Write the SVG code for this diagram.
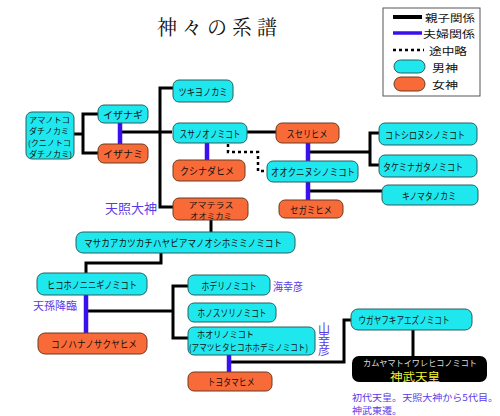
<svg xmlns="http://www.w3.org/2000/svg" width="500" height="416" viewBox="0 0 500 416">
<style>
.m{fill:#1ee8ee;stroke:#2b5f60;stroke-width:1}
.f{fill:#f86a38;stroke:#6b3a22;stroke-width:1}
.t{font-family:"Noto Sans CJK JP","Noto Sans",sans-serif;font-size:10px;fill:#111;text-anchor:middle;dominant-baseline:central}
.tl{font-family:"Noto Sans CJK JP","Noto Sans",sans-serif;font-size:10px;fill:#111;dominant-baseline:central}
.lb{font-family:"Noto Sans CJK JP","Noto Sans",sans-serif;fill:#5a3ae8;dominant-baseline:central}
.lg{font-family:"Noto Sans CJK JP","Noto Sans",sans-serif;font-size:10.5px;fill:#111;dominant-baseline:central}
.k{fill:none;stroke:#000;stroke-width:3}
.b{fill:none;stroke:#3a10ee;stroke-width:4.5}
.d{fill:none;stroke:#000;stroke-width:2.5;stroke-dasharray:3 3}
</style>
<rect width="500" height="416" fill="#fff"/>
<text x="217" y="26" font-family="'Noto Serif CJK JP','Noto Sans CJK JP',serif" font-size="20" text-anchor="middle" dominant-baseline="central" textLength="120" fill="#111">神々の系譜</text>

<g id="legend">
<rect x="383" y="8" width="97" height="88" fill="#fff" stroke="#555" stroke-width="1"/>
<line x1="393" y1="17" x2="422" y2="17" stroke="#000" stroke-width="4"/>
<text class="lg" x="425" y="17.5" textLength="50" lengthAdjust="spacingAndGlyphs">親子関係</text>
<line x1="393" y1="33" x2="422" y2="33" stroke="#3a10ee" stroke-width="3.5"/>
<text class="lg" x="423" y="33" textLength="52" lengthAdjust="spacingAndGlyphs">夫婦関係</text>
<line x1="393" y1="50" x2="424" y2="50" class="d" stroke-width="3"/>
<text class="lg" x="429" y="50" textLength="38" lengthAdjust="spacingAndGlyphs">途中略</text>
<rect x="394" y="60" width="31" height="13" rx="6.5" class="m"/>
<text class="lg" x="432" y="67" textLength="26" lengthAdjust="spacingAndGlyphs">男神</text>
<rect x="394" y="77" width="31" height="14" rx="7" class="f"/>
<text class="lg" x="432" y="84" textLength="26" lengthAdjust="spacingAndGlyphs">女神</text>
</g>

<g id="connectors">
<path class="k" d="M74 134H83M98 114H83V153H98"/>
<path class="k" d="M120 132H172"/>
<path class="k" d="M173 88H160V207H173"/>
<path class="k" d="M247 132H276"/>
<path class="k" d="M308 152H370M379 133H370V165H379"/>
<path class="k" d="M308 191H382"/>
<path class="k" d="M211 219V232"/>
<path class="k" d="M161 253V263H86V273"/>
<path class="k" d="M86 311H173M188 286H173V338H188"/>
<path class="k" d="M229 362H344V320H351"/>
<path class="k" d="M413 330V356"/>
<path class="b" d="M120 123V144"/>
<path class="b" d="M207 143V160"/>
<path class="b" d="M308 143V161M308 182V200"/>
<path class="b" d="M86 295V333"/>
<path class="b" d="M229 355V372"/>
<path class="d" d="M228 144V152H258V171H267"/>
</g>

<g id="amanotokotachi">
<rect x="26" y="112" width="48" height="47" rx="6" class="m"/>
<text class="tl" style="font-size:7.8px"><tspan x="29" y="118.5" textLength="41" lengthAdjust="spacingAndGlyphs">アマノトコ</tspan><tspan x="29" y="130" textLength="40" lengthAdjust="spacingAndGlyphs">ダチノカミ</tspan><tspan x="28" y="141.5" textLength="43" lengthAdjust="spacingAndGlyphs">(クニノトコ</tspan><tspan x="29" y="153" textLength="43" lengthAdjust="spacingAndGlyphs">ダチノカミ)</tspan></text>
</g>
<g id="izanagi"><rect x="98" y="105" width="50" height="18" rx="6" class="m"/><text class="t" x="123" y="114" textLength="40" lengthAdjust="spacingAndGlyphs">イザナギ</text></g>
<g id="izanami"><rect x="98" y="144" width="50" height="19" rx="6" class="f"/><text class="t" x="123" y="153.5" textLength="40" lengthAdjust="spacingAndGlyphs">イザナミ</text></g>
<g id="tsukiyomi"><rect x="173" y="80" width="60" height="22" rx="6" class="m"/><text class="t" x="203" y="91" textLength="49" lengthAdjust="spacingAndGlyphs">ツキヨノカミ</text></g>
<g id="susanoo"><rect x="173" y="123" width="74" height="20" rx="6" class="m"/><text class="t" x="210" y="133" textLength="61" lengthAdjust="spacingAndGlyphs">スサノオノミコト</text></g>
<g id="kushinada"><rect x="173" y="160" width="72" height="21" rx="6" class="f"/><text class="t" x="207" y="170.5" textLength="54" lengthAdjust="spacingAndGlyphs">クシナダヒメ</text></g>
<g id="amaterasu"><rect x="173" y="198" width="75" height="22" rx="6" class="f"/><text class="t" style="font-size:7.5px"><tspan x="211" y="203.5" textLength="45" lengthAdjust="spacingAndGlyphs">アマテラス</tspan><tspan x="211" y="214.5" textLength="42" lengthAdjust="spacingAndGlyphs">オオミカミ</tspan></text></g>
<g id="suserihime"><rect x="276" y="123" width="63" height="20" rx="6" class="f"/><text class="t" x="307" y="133" textLength="41" lengthAdjust="spacingAndGlyphs">スセリヒメ</text></g>
<g id="ookuninushi"><rect x="267" y="161" width="91" height="21" rx="6" class="m"/><text class="t" x="313" y="171.5" textLength="84" lengthAdjust="spacingAndGlyphs">オオクニヌシノミコト</text></g>
<g id="segamihime"><rect x="279" y="200" width="64" height="18" rx="6" class="f"/><text class="t" x="311" y="209" textLength="42" lengthAdjust="spacingAndGlyphs">セガミヒメ</text></g>
<g id="kotoshironushi"><rect x="379" y="123" width="98" height="22" rx="6" class="m"/><text class="t" x="425" y="134" textLength="80" lengthAdjust="spacingAndGlyphs">コトシロヌシノミコト</text></g>
<g id="takeminagata"><rect x="379" y="155" width="98" height="22" rx="6" class="m"/><text class="t" x="423" y="166" textLength="80" lengthAdjust="spacingAndGlyphs">タケミナガタノミコト</text></g>
<g id="kinomata"><rect x="382" y="185" width="96" height="20" rx="6" class="m"/><text class="t" x="429" y="195" textLength="54" lengthAdjust="spacingAndGlyphs">キノマタノカミ</text></g>
<g id="masakaa"><rect x="76" y="232" width="219" height="21" rx="7" class="m"/><text class="t" x="183" y="242.5" textLength="198" lengthAdjust="spacingAndGlyphs">マサカアカツカチハヤビアマノオシホミミノミコト</text></g>
<g id="ninigi"><rect x="37" y="273" width="110" height="22" rx="7" class="m"/><text class="t" x="92" y="284" textLength="90" lengthAdjust="spacingAndGlyphs">ヒコホノニニギノミコト</text></g>
<g id="konohana"><rect x="38" y="333" width="109" height="21" rx="7" class="f"/><text class="t" x="94" y="343.5" textLength="86" lengthAdjust="spacingAndGlyphs">コノハナノサクヤヒメ</text></g>
<g id="hoderi"><rect x="188" y="275" width="82" height="20" rx="6" class="m"/><text class="t" x="229" y="285" textLength="55" lengthAdjust="spacingAndGlyphs">ホデリノミコト</text></g>
<g id="hosusori"><rect x="188" y="303" width="88" height="19" rx="6" class="m"/><text class="t" x="232" y="312.5" textLength="69" lengthAdjust="spacingAndGlyphs">ホノスソリノミコト</text></g>
<g id="hoori"><rect x="188" y="327" width="127" height="28" rx="6" class="m"/><text class="tl" style="font-size:8.8px"><tspan x="197" y="334" textLength="57" lengthAdjust="spacingAndGlyphs">ホオリノミコト</tspan><tspan x="189" y="347" textLength="119" lengthAdjust="spacingAndGlyphs">(アマツヒタヒコホホデミノミコト)</tspan></text></g>
<g id="toyotama"><rect x="188" y="372" width="84" height="19" rx="6" class="f"/><text class="t" x="231" y="381.5" textLength="47" lengthAdjust="spacingAndGlyphs">トヨタマヒメ</text></g>
<g id="ugaya"><rect x="351" y="309" width="121" height="21" rx="7" class="m"/><text class="t" x="404" y="319.5" textLength="91" lengthAdjust="spacingAndGlyphs">ウガヤフキアエズノミコト</text></g>
<g id="jimmu"><rect x="352" y="356" width="135" height="26" rx="7" fill="#000"/><text class="t" style="fill:#ddd;font-size:8.5px"><tspan x="420" y="361.8" textLength="114" lengthAdjust="spacingAndGlyphs">カムヤマトイワレヒコノミコト</tspan><tspan x="415" y="376" textLength="50" lengthAdjust="spacingAndGlyphs" style="fill:#f2f23a;font-size:11px">神武天皇</tspan></text></g>

<g id="labels">
<text class="lb" x="105" y="207" font-size="13" textLength="52" lengthAdjust="spacingAndGlyphs">天照大神</text>
<text class="lb" x="33" y="305" font-size="11" textLength="44" lengthAdjust="spacingAndGlyphs">天孫降臨</text>
<text class="lb" x="273" y="286" font-size="11.5" textLength="30" lengthAdjust="spacingAndGlyphs">海幸彦</text>
<text class="lb" x="324" y="322" font-size="12" style="writing-mode:vertical-rl;letter-spacing:-1px">山幸彦</text>
<text class="lb" font-size="9"><tspan x="352" y="396.5" textLength="146" lengthAdjust="spacingAndGlyphs">初代天皇。天照大神から5代目。</tspan><tspan x="352" y="409.5" textLength="50" lengthAdjust="spacingAndGlyphs">神武東遷。</tspan></text>
</g>
</svg>
